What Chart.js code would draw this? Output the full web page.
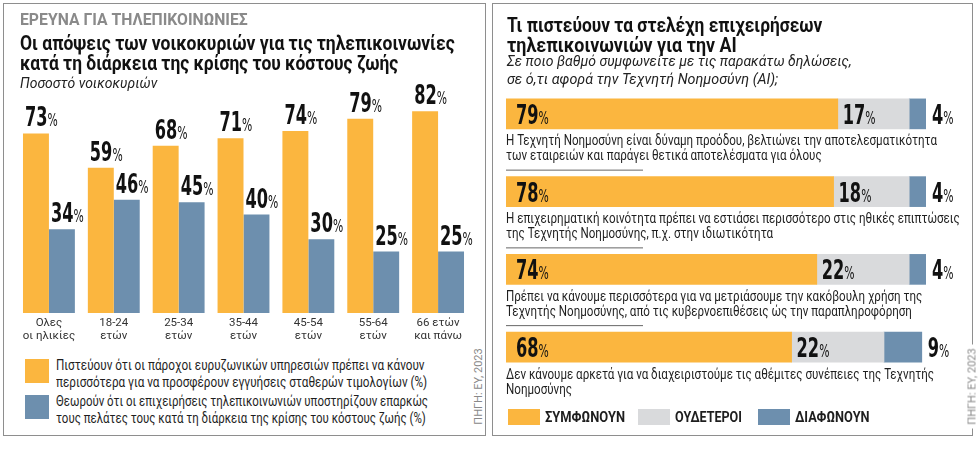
<!DOCTYPE html>
<html>
<head>
<meta charset="utf-8">
<script src="https://cdn.jsdelivr.net/npm/chart.js@4.4.1/dist/chart.umd.min.js"></script>
<style>
  body { margin: 0; width: 980px; height: 461px; background: #fff; position: relative; overflow: hidden;
         font-family: Roboto, "Noto Sans", sans-serif; color: #111; }
  .panel { position: absolute; border: 1.5px solid #8e8e8e; box-sizing: border-box; }
  #leftPanel { left: 3px; top: 3px; width: 483px; height: 433px; }
  #rightPanel { left: 492px; top: 3px; width: 481px; height: 433px; }
  .t { position: absolute; white-space: nowrap; transform-origin: 0 50%; line-height: 1; }
  .kicker { font-weight: bold; color: #8a8a8a; font-size: 17px; }
  .title { font-weight: bold; font-size: 20px; color: #111; }
  .sub { font-style: italic; font-size: 15px; color: #222; }
  .leg { font-size: 14.5px; color: #1e1e1e; line-height: 17px; }
  .sq { position: absolute; }
  .legR { font-weight: bold; font-size: 15px; color: #1e1e1e; }
  .src { position: absolute; font-size: 11px; color: #888; background: #fff; padding: 0 2px;
         transform: rotate(-90deg); transform-origin: center; white-space: nowrap; }
  canvas { position: absolute; }
</style>
</head>
<body>
<div class="panel" id="leftPanel"></div>
<div class="panel" id="rightPanel"></div>

<canvas id="leftChart" width="490" height="347" style="left:0;top:0"></canvas>
<canvas id="rightChart" width="490" height="461" style="left:490px;top:0"></canvas>

<!-- left panel texts -->
<div class="t kicker" style="left:20px;top:11px" data-w="228">ΕΡΕΥΝΑ ΓΙΑ ΤΗΛΕΠΙΚΟΙΝΩΝΙΕΣ</div>
<div class="t title" style="left:20px;top:33px" data-w="435">Οι απόψεις των νοικοκυριών για τις τηλεπικοινωνίες</div>
<div class="t title" style="left:20px;top:53px" data-w="378">κατά τη διάρκεια της κρίσης του κόστους ζωής</div>
<div class="t sub" style="left:20px;top:76px" data-w="137">Ποσοστό νοικοκυριών</div>

<div class="sq" style="left:25px;top:359px;width:24px;height:24px;background:#fbb63f"></div>
<div class="t leg" style="left:56px;top:357px" data-w="371">Πιστεύουν ότι οι πάροχοι ευρυζωνικών υπηρεσιών πρέπει να κάνουν<br>περισσότερα για να προσφέρουν εγγυήσεις σταθερών τιμολογίων (%)</div>
<div class="sq" style="left:25px;top:395px;width:24px;height:24px;background:#6d8fae"></div>
<div class="t leg" style="left:56px;top:393px" data-w="372">Θεωρούν ότι οι επιχειρήσεις τηλεπικοινωνιών υποστηρίζουν επαρκώς<br>τους πελάτες τους κατά τη διάρκεια της κρίσης του κόστους ζωής (%)</div>
<div class="src" style="left:436px;top:380px;width:80px;text-align:center">ΠΗΓΗ: ΕΥ, 2023</div>

<!-- right panel texts -->
<div class="t title" style="left:507px;top:15px" data-w="315">Τι πιστεύουν τα στελέχη επιχειρήσεων</div>
<div class="t title" style="left:507px;top:35px" data-w="230">τηλεπικοινωνιών για την AI</div>
<div class="t sub" style="left:507px;top:54px" data-w="345">Σε ποιο βαθμό συμφωνείτε με τις παρακάτω δηλώσεις,</div>
<div class="t sub" style="left:507px;top:72px" data-w="271">σε ό,τι αφορά την Τεχνητή Νοημοσύνη (AI);</div>

<div class="sq" style="left:508px;top:409px;width:32px;height:16px;background:#fbb63f"></div>
<div class="t legR" style="left:545px;top:410px" data-w="80">ΣΥΜΦΩΝΟΥΝ</div>
<div class="sq" style="left:638px;top:409px;width:32px;height:16px;background:#d9dadc"></div>
<div class="t legR" style="left:675px;top:410px" data-w="67">ΟΥΔΕΤΕΡΟΙ</div>
<div class="sq" style="left:758px;top:409px;width:32px;height:16px;background:#6d8fae"></div>
<div class="t legR" style="left:795px;top:410px" data-w="75">ΔΙΑΦΩΝΟΥΝ</div>
<div class="src" style="left:930px;top:380px;width:80px;text-align:center">ΠΗΓΗ: ΕΥ, 2023</div>

<script>
// Left chart data
const ageGroups = [
  ['Ολες', 'οι ηλικίες'],
  ['18-24', 'ετών'],
  ['25-34', 'ετών'],
  ['35-44', 'ετών'],
  ['45-54', 'ετών'],
  ['55-64', 'ετών'],
  ['66 ετών', 'και πάνω']
];
const fixedPricing = [73, 59, 68, 71, 74, 79, 82];
const adequateSupport = [34, 46, 45, 40, 30, 25, 25];

// Right chart data
const statements = [
  ['Η Τεχνητή Νοημοσύνη είναι δύναμη προόδου, βελτιώνει την αποτελεσματικότητα',
   'των εταιρειών και παράγει θετικά αποτελέσματα για όλους'],
  ['Η επιχειρηματική κοινότητα πρέπει να εστιάσει περισσότερο στις ηθικές επιπτώσεις',
   'της Τεχνητής Νοημοσύνης, π.χ. στην ιδιωτικότητα'],
  ['Πρέπει να κάνουμε περισσότερα για να μετριάσουμε την κακόβουλη χρήση της',
   'Τεχνητής Νοημοσύνης, από τις κυβερνοεπιθέσεις ώς την παραπληροφόρηση'],
  ['Δεν κάνουμε αρκετά για να διαχειριστούμε τις αθέμιτες συνέπειες της Τεχνητής',
   'Νοημοσύνης']
];
const agree = [79, 78, 74, 68];
const neutral = [17, 18, 22, 22];
const disagree = [4, 4, 4, 9];

const ORANGE = '#fbb63f';
const BLUE = '#6d8fae';
const GRAY = '#d9dadc';
const NUM_FONT = '"DejaVu Sans", sans-serif';
const STMT_FONT = '14px Roboto, "Noto Sans", sans-serif';
const STMT_W = 431; // width of the first statement line in the picture

// big condensed number with a small % after it
function drawPct(ctx, value, x, y) {
  ctx.save();
  ctx.translate(x, y);
  ctx.scale(0.6, 1);
  ctx.fillStyle = '#111';
  ctx.textAlign = 'left';
  ctx.textBaseline = 'alphabetic';
  ctx.font = 'bold 27px ' + NUM_FONT;
  const s = String(value);
  ctx.fillText(s, 0, 0);
  const w = ctx.measureText(s).width;
  ctx.font = '18px ' + NUM_FONT;
  ctx.fillText('%', w, 0);
  ctx.restore();
}

const columnLabels = {
  id: 'columnLabels',
  afterDatasetsDraw(chart) {
    const ctx = chart.ctx;
    chart.data.datasets.forEach((ds, di) => {
      chart.getDatasetMeta(di).data.forEach((bar, i) => {
        drawPct(ctx, ds.data[i], bar.x - bar.width / 2 + 2, bar.y - 7);
      });
    });
  }
};

const rowLabels = {
  id: 'rowLabels',
  afterDatasetsDraw(chart) {
    const ctx = chart.ctx;
    const mA = chart.getDatasetMeta(0).data;
    const mN = chart.getDatasetMeta(1).data;
    const mD = chart.getDatasetMeta(2).data;
    ctx.save();
    ctx.font = STMT_FONT;
    const k = STMT_W / ctx.measureText(statements[0][0]).width;
    ctx.restore();
    mA.forEach((a, i) => {
      drawPct(ctx, agree[i], a.base + 10, a.y + 10);
      drawPct(ctx, neutral[i], mN[i].base + 5, mN[i].y + 10);
      drawPct(ctx, disagree[i], mD[i].x + 6, mD[i].y + 10);

      const top = a.y - a.height / 2;
      const bottom = a.y + a.height / 2;
      ctx.save();
      ctx.fillStyle = '#1e1e1e';
      ctx.textAlign = 'left';
      ctx.textBaseline = 'middle';
      ctx.font = STMT_FONT;
      statements[i].forEach((line, j) => {
        ctx.save();
        ctx.translate(a.base, bottom + 13 + j * 15);
        ctx.scale(k, 1);
        ctx.fillText(line, 0, 0);
        ctx.restore();
      });
      if (i > 0) {
        ctx.strokeStyle = '#666';
        ctx.lineWidth = 1;
        ctx.beginPath();
        ctx.moveTo(a.base, top - 6.5);
        ctx.lineTo(a.base + 137, top - 6.5);
        ctx.stroke();
      }
      ctx.restore();
    });
  }
};

new Chart(document.getElementById('leftChart').getContext('2d'), {
  type: 'bar',
  data: {
    labels: ageGroups,
    datasets: [
      { data: fixedPricing, backgroundColor: ORANGE, categoryPercentage: 0.8, barPercentage: 1 },
      { data: adequateSupport, backgroundColor: BLUE, categoryPercentage: 0.8, barPercentage: 1 }
    ]
  },
  options: {
    responsive: false,
    animation: false,
    layout: { padding: { left: 16.5, right: 19.5, top: 67, bottom: 0 } },
    plugins: { legend: { display: false }, tooltip: { enabled: false } },
    scales: {
      y: { display: false, min: 0, max: 100 },
      x: {
        grid: { display: false, drawTicks: false },
        border: { display: false },
        ticks: { color: '#333', padding: 4, font: { family: 'Roboto', size: 11.5, lineHeight: 1.13 } }
      }
    }
  },
  plugins: [columnLabels]
});

new Chart(document.getElementById('rightChart').getContext('2d'), {
  type: 'bar',
  data: {
    labels: statements,
    datasets: [
      { label: 'ΣΥΜΦΩΝΟΥΝ', data: agree, backgroundColor: ORANGE, barThickness: 30 },
      { label: 'ΟΥΔΕΤΕΡΟΙ', data: neutral, backgroundColor: GRAY, barThickness: 30 },
      { label: 'ΔΙΑΦΩΝΟΥΝ', data: disagree, backgroundColor: BLUE, barThickness: 30 }
    ]
  },
  options: {
    indexAxis: 'y',
    responsive: false,
    animation: false,
    layout: { padding: { left: 16, right: 54, top: 75, bottom: 75 } },
    plugins: { legend: { display: false }, tooltip: { enabled: false } },
    scales: {
      x: { display: false, stacked: true, min: 0, max: 100 },
      y: { display: false, stacked: true }
    }
  },
  plugins: [rowLabels]
});

// squeeze html text lines to the measured widths
document.querySelectorAll('[data-w]').forEach(el => {
  const k = Number(el.dataset.w) / el.scrollWidth;
  el.style.transform = 'scaleX(' + k.toFixed(3) + ')';
});
</script>
</body>
</html>
